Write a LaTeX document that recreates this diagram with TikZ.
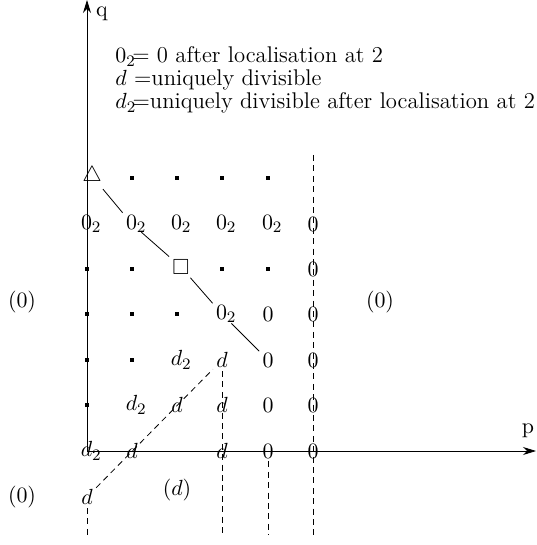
\documentclass[tikz,border=0pt,11pt]{standalone}
\usepackage{amssymb}
\usetikzlibrary{arrows.meta}
\newcommand{\zt}{$0_{\rlap{$\scriptstyle 2$}}$}
\newcommand{\dt}{$d_{\rlap{$\scriptstyle 2$}}$}
\begin{document}
\begin{tikzpicture}[x=0.5pt,y=-0.5pt,
  lab/.style={inner sep=1.5pt},
  pt/.style={rectangle,fill=black,minimum size=1.6pt,inner sep=0pt},
  dsh/.style={dash pattern=on 3pt off 2.2pt},
  axis/.style={-{Stealth[length=6.5pt,width=4pt]}},
  txt/.style={anchor=base west,inner sep=0pt,font=\fontsize{11.35pt}{13.5pt}\selectfont}]
\useasboundingbox (0,0) rectangle (536,545);
% axes
\coordinate (O) at (87,451);
\coordinate (qtop) at (87,0);
\coordinate (pend) at (536,451);
\draw[axis] (O) -- (qtop);
\draw[axis] (O) -- (pend);
\node (q) at (102,14) {q};
\node (p) at (528,431) {p};
% legend
\node[txt] (l1) at (115,63) {$0_2$\kern-1.8pt= 0 after localisation at 2};
\node[txt] (l2) at (115,86) {$d$ =uniquely divisible};
\node[txt] (l3) at (115,109) {$d_2$\kern-1.8pt=uniquely divisible after localisation at 2};
% row 0
\node[lab] (tri) at (92,176) {$\triangle$};
\node[pt] (p01) at (132,178) {};
\node[pt] (p02) at (177,178) {};
\node[pt] (p03) at (222,178) {};
\node[pt] (p04) at (268,178) {};
% row 1
\node[lab] (z10) at (87,224) {\zt};
\node[lab] (z11) at (132,224) {\zt};
\node[lab] (z12) at (177,224) {\zt};
\node[lab] (z13) at (222,224) {\zt};
\node[lab] (z14) at (268,224) {\zt};
\node[lab] (o15) at (313,224) {$0$};
% row 2
\node[pt] (p20) at (87,269) {};
\node[pt] (p21) at (132,269) {};
\node[lab] (sq) at (181,267) {$\square$};
\node[pt] (p23) at (222,269) {};
\node[pt] (p24) at (268,269) {};
\node[lab] (o25) at (313,269) {$0$};
% row 3
\node[pt] (p30) at (87,314) {};
\node[pt] (p31) at (132,314) {};
\node[pt] (p32) at (177,314) {};
\node[lab] (z33) at (222,314) {\zt};
\node[lab] (o34) at (268,314) {$0$};
\node[lab] (o35) at (313,314) {$0$};
% row 4
\node[pt] (p40) at (87,360) {};
\node[pt] (p41) at (132,360) {};
\node[lab] (e42) at (177,360) {\dt};
\node[lab] (d43) at (222,360) {$d$};
\node[lab] (o44) at (268,360) {$0$};
\node[lab] (o45) at (313,360) {$0$};
% row 5
\node[pt] (p50) at (87,405) {};
\node[lab] (e51) at (132,405) {\dt};
\node[lab] (d52) at (177,405) {$d$};
\node[lab] (d53) at (222,405) {$d$};
\node[lab] (o54) at (268,405) {$0$};
\node[lab] (o55) at (313,405) {$0$};
% row 6
\node[lab] (e60) at (87,451) {\dt};
\node[lab] (d61) at (132,451) {$d$};
\node[lab] (d63) at (222,451) {$d$};
\node[lab] (o64) at (268,451) {$0$};
\node[lab] (o65) at (313,451) {$0$};
% row 7
\node[lab] (d70) at (87,497) {$d$};
% region labels
\node (r1) at (22,302) {$(0)$};
\node (r2) at (380,302) {$(0)$};
\node (r3) at (22,497) {$(0)$};
\node (r4) at (177,490) {$(d)$};
% solid diagonal
\draw (tri) -- (z11);
\draw (z11) -- (sq);
\draw (sq) -- (z33);
\draw (z33) -- (o44);
% dashed diagonal
\draw[dsh] (d70) -- (d43);
% vertical dashed lines
\coordinate (t5) at (313,155);
\coordinate (b5) at (313,535);
\coordinate (b3) at (222,535);
\coordinate (b4) at (268,535);
\coordinate (b0) at (87,535);
\draw[dsh] (t5) -- (b5);
\draw[dsh] (d43.south) -- (b3);
\draw[dsh] (o64.south) -- (b4);
\draw[dsh] (d70.south) -- (b0);
\end{tikzpicture}
\end{document}
